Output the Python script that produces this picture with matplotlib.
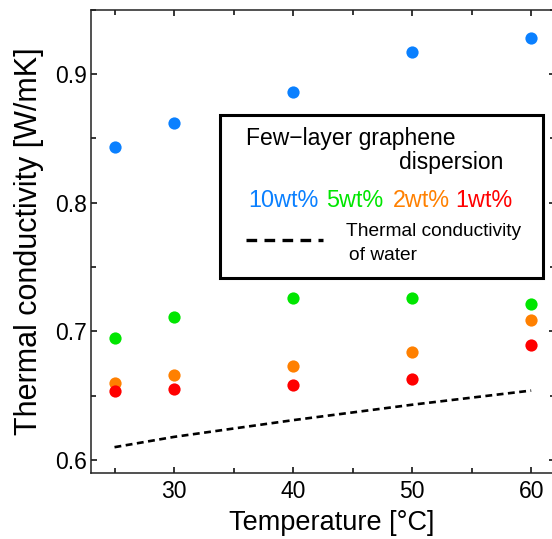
import matplotlib
matplotlib.use('Agg')
from matplotlib import pyplot as plt
from matplotlib.ticker import MultipleLocator

plt.rcParams['font.family'] = ['Liberation Sans', 'DejaVu Sans']

temperature = [25, 30, 40, 50, 60]
k_10wt = [0.843, 0.862, 0.886, 0.917, 0.928]
k_5wt = [0.695, 0.711, 0.726, 0.726, 0.7215]
k_2wt = [0.6595, 0.666, 0.673, 0.684, 0.709]
k_1wt = [0.6535, 0.6555, 0.658, 0.663, 0.6895]
k_water = [0.610, 0.618, 0.631, 0.643, 0.654]

series_labels = ['10wt%', '5wt%', '2wt%', '1wt%']
series_colors = ['#0a80ff', '#00e600', '#ff8000', '#ff0000']


def draw_chart():
    fig = plt.figure(figsize=(5.52, 5.39), dpi=100)
    ax = fig.add_axes([0.1643, 0.1226, 0.8411, 0.8594])

    for vals, color in zip([k_10wt, k_5wt, k_2wt, k_1wt], series_colors):
        ax.plot(temperature, vals, 'o', color=color, markersize=8.8,
                markeredgewidth=0, zorder=3)
    ax.plot(temperature, k_water, color='black', lw=1.9, dashes=(2.6, 1.7))

    ax.set_xlim(23, 62)
    ax.set_ylim(0.59, 0.95)
    ax.xaxis.set_major_locator(MultipleLocator(10))
    ax.xaxis.set_minor_locator(MultipleLocator(5))
    ax.yaxis.set_major_locator(MultipleLocator(0.1))
    ax.yaxis.set_minor_locator(MultipleLocator(0.05))
    ax.set_yticks([0.6, 0.7, 0.8, 0.9])
    ax.set_yticklabels(['0.6', '0.7', '0.8', '0.9'])
    ax.tick_params(which='both', direction='in', top=True, right=True,
                   width=1.1, labelsize=16.5)
    ax.tick_params(which='major', length=4)
    ax.tick_params(which='minor', length=3.5)
    ax.tick_params(axis='y', pad=3)
    ax.tick_params(axis='x', pad=5)
    for sp in ax.spines.values():
        sp.set_linewidth(1.1)
        sp.set_color('#222222')

    ax.set_xlabel('Temperature [°C]', fontsize=19.5)
    ax.set_ylabel('Thermal conductivity [W/mK]', fontsize=22)
    ax.xaxis.set_label_coords(0.52, -0.08)
    ax.yaxis.set_label_coords(-0.0995, 0.5)

    # legend box drawn by hand
    box = plt.Rectangle((0.2785, 0.4208), 0.695, 0.3519, transform=ax.transAxes,
                        fill=True, facecolor='white', edgecolor='black',
                        lw=2.2, zorder=4)
    ax.add_patch(box)
    ax.text(0.3345, 0.723, 'Few\u2212layer graphene', transform=ax.transAxes,
            fontsize=16.5, va='center', zorder=5)
    ax.text(0.664, 0.671, 'dispersion', transform=ax.transAxes,
            fontsize=16.5, va='center', zorder=5)
    for x, lab, color in zip([0.3397, 0.508, 0.6518, 0.785], series_labels,
                             series_colors):
        ax.text(x, 0.589, lab, color=color, transform=ax.transAxes,
                fontsize=16.8, va='center', zorder=5)
    ax.plot([0.335, 0.5004], [0.5028, 0.5028], color='black', lw=2.4,
            dashes=(3.2, 2.2), transform=ax.transAxes, zorder=5)
    ax.text(0.5497, 0.522, 'Thermal conductivity', transform=ax.transAxes,
            fontsize=13.8, va='center', zorder=5)
    ax.text(0.556, 0.4704, 'of water', transform=ax.transAxes,
            fontsize=13.8, va='center', zorder=5)

    fig.savefig('out.png', dpi=100)


def main():
    draw_chart()


if __name__ == '__main__':
    main()
